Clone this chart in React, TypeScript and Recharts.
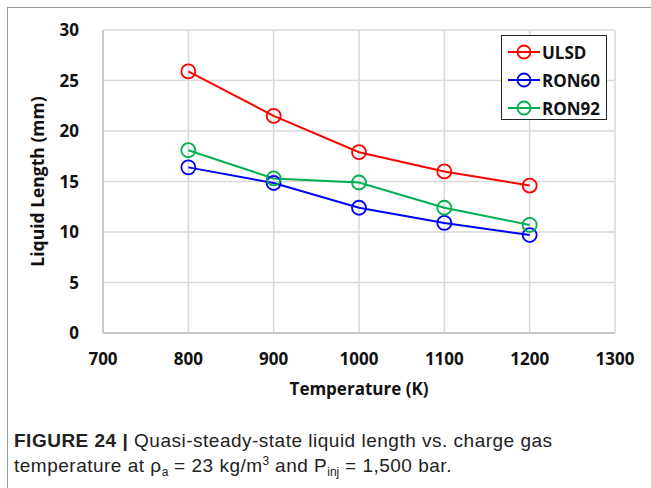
import React from 'react';
import { LineChart, Line, XAxis, YAxis, CartesianGrid } from 'recharts';

const TEMPS = [800, 900, 1000, 1100, 1200];
const ULSD = [25.9, 21.5, 17.9, 16.0, 14.6];
const RON60 = [16.4, 14.85, 12.4, 10.9, 9.7];
const RON92 = [18.1, 15.3, 14.9, 12.4, 10.7];
const X_TICKS = [700, 800, 900, 1000, 1100, 1200, 1300];
const Y_TICKS = [0, 5, 10, 15, 20, 25, 30];

const SERIES = [
    { key: 'ULSD', color: '#ff0000' },
    { key: 'RON60', color: '#0000ff' },
    { key: 'RON92', color: '#00b050' },
];

const DATA = TEMPS.map((t, i) => ({ t, ULSD: ULSD[i], RON60: RON60[i], RON92: RON92[i] }));

const AXIS_FONT = '"Open Sans", "DejaVu Sans", sans-serif';

function LegendBox() {
    return (
        <div style={{ width: 106, height: 85, boxSizing: 'border-box', border: '1.5px solid #222', background: '#fff', padding: '2px 0 0 5px', fontFamily: AXIS_FONT, fontWeight: 700, fontSize: 17, color: '#111' }}>
            {SERIES.map(s => (
                <div key={s.key} style={{ display: 'flex', alignItems: 'center', height: 28 }}>
                    <svg width={34} height={20} style={{ marginRight: 1 }}>
                        <line x1={1} y1={10} x2={33} y2={10} stroke={s.color} strokeWidth={2} />
                        <circle cx={17} cy={10} r={6.5} stroke={s.color} strokeWidth={1.8} fill="none" />
                    </svg>
                    <span>{s.key}</span>
                </div>
            ))}
        </div>
    );
}

const sub = { fontSize: 12, position: 'relative' as const, top: 4, verticalAlign: 'baseline', letterSpacing: 0 };
const sup = { fontSize: 12, position: 'relative' as const, top: -7, verticalAlign: 'baseline', letterSpacing: 0 };

export default function App() {
    return (
        <div style={{ position: 'absolute', left: 0, top: 0, width: 651, height: 488, background: '#fff', overflow: 'hidden' }}>
            <div style={{ position: 'absolute', left: 7, top: 7, width: 644, height: 481, borderTop: '1.5px solid #9a9a9a', borderLeft: '1.5px solid #9a9a9a' }} />
            <div style={{ position: 'absolute', left: 0, top: 0 }}>
                <LineChart width={651} height={410} data={DATA} margin={{ top: 30, right: 36, left: 20, bottom: 17 }}>
                    <CartesianGrid stroke="#d9d9d9" strokeWidth={1.5} />
                    <XAxis dataKey="t" type="number" domain={[700, 1300]} ticks={X_TICKS} height={60}
                        tick={{ fill: '#111', fontSize: 17, fontWeight: 700, fontFamily: AXIS_FONT }}
                        tickLine={false} axisLine={{ stroke: '#bfbfbf', strokeWidth: 1.5 }} tickMargin={14}
                        label={{ value: 'Temperature (K)', position: 'insideBottom', offset: -2, fill: '#111', fontSize: 17, fontWeight: 700, fontFamily: AXIS_FONT }} />
                    <YAxis type="number" domain={[0, 30]} ticks={Y_TICKS} width={83}
                        tick={{ fill: '#111', fontSize: 17, fontWeight: 700, fontFamily: AXIS_FONT }}
                        tickLine={false} axisLine={{ stroke: '#bfbfbf', strokeWidth: 1.5 }} tickMargin={18}
                        label={{ value: 'Liquid Length (mm)', angle: -90, position: 'insideLeft', offset: 18, style: { textAnchor: 'middle' }, fill: '#111', fontSize: 17.5, fontWeight: 700, fontFamily: AXIS_FONT }} />
                    {SERIES.map(s => (
                        <Line key={s.key} dataKey={s.key} stroke={s.color} strokeWidth={2} isAnimationActive={false}
                            dot={{ r: 7, stroke: s.color, strokeWidth: 1.8, fill: 'none' }} activeDot={false} />
                    ))}
                </LineChart>
            </div>
            <div style={{ position: 'absolute', left: 501, top: 35 }}>
                <LegendBox />
            </div>
            <div style={{ position: 'absolute', left: 14, top: 428, fontFamily: '"Liberation Sans", Arial, sans-serif', fontSize: 19, letterSpacing: 0.5, lineHeight: '25px', color: '#222', whiteSpace: 'nowrap' }}>
                <div><b>FIGURE 24 |</b> Quasi-steady-state liquid length vs. charge gas</div>
                <div>temperature at ρ<span style={sub}>a</span> = 23 kg/m<span style={sup}>3</span> and P<span style={sub}>inj</span> = 1,500 bar.</div>
            </div>
        </div>
    );
}
